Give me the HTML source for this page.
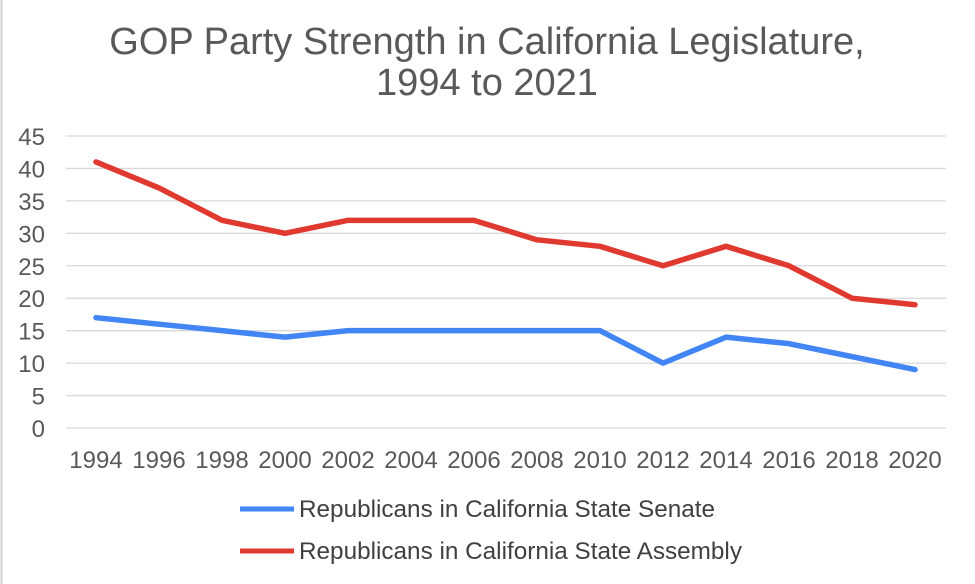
<!DOCTYPE html>
<html><head><meta charset="utf-8"><style>
body{margin:0;background:#fff;}
svg{display:block;font-family:"Liberation Sans",Arial,sans-serif;}
</style></head><body>
<svg id="c" width="975" height="584">
<line x1="1.5" y1="0" x2="1.5" y2="584" stroke="#d0d0d0" stroke-width="2"/>
<text x="487" y="54" text-anchor="middle" font-size="38" fill="#595959">GOP Party Strength in California Legislature,</text>
<text x="487" y="95" text-anchor="middle" font-size="38" fill="#595959">1994 to 2021</text>
<g id="grid"></g><g id="ylab"></g><g id="xlab"></g><g id="lines"></g>
<line x1="240" y1="509" x2="294" y2="509" stroke="#4285f4" stroke-width="5"/>
<text x="299" y="517" font-size="24.3" fill="#404040">Republicans in California State Senate</text>
<line x1="240" y1="551" x2="294" y2="551" stroke="#e0392f" stroke-width="5"/>
<text x="299" y="559" font-size="24.3" fill="#404040">Republicans in California State Assembly</text>
</svg>
<script>
const years=["1994","1996","1998","2000","2002","2004","2006","2008","2010","2012","2014","2016","2018","2020"];
const senate=[17,16,15,14,15,15,15,15,15,10,14,13,11,9];
const assembly=[41,37,32,30,32,32,32,29,28,25,28,25,20,19];
const yTicks=[0,5,10,15,20,25,30,35,40,45];
const NS="http://www.w3.org/2000/svg";
const x0=96,dx=63,yZero=428,yTop=136;
const X=i=>x0+i*dx, Y=v=>yZero-(v/45)*(yZero-yTop);
function mk(t,a,p){const e=document.createElementNS(NS,t);for(const k in a)e.setAttribute(k,a[k]);document.getElementById(p).appendChild(e);return e;}
yTicks.forEach(v=>{
 const l=mk("line",{x1:66,x2:946,y1:Y(v),y2:Y(v),stroke:"#d9d9d9","stroke-width":1.3},"grid");
 
 
 const t=mk("text",{x:45,y:Y(v)+9,"text-anchor":"end","font-size":24,fill:"#595959"},"ylab");t.textContent=v;
 
 
});
years.forEach((y,i)=>{
 const t=mk("text",{x:X(i),y:468,"text-anchor":"middle","font-size":24,fill:"#595959"},"xlab");t.textContent=y;
 
 
});
function line(d,c,n){
 const p=mk("polyline",{points:d.map((v,i)=>X(i)+","+Y(v)).join(" "),fill:"none",stroke:c,"stroke-width":5.5,"stroke-linejoin":"round","stroke-linecap":"round"},"lines");
 
 
}
line(senate,"#4285f4","senate-line");
line(assembly,"#e0392f","assembly-line");
</script>
</body></html>
